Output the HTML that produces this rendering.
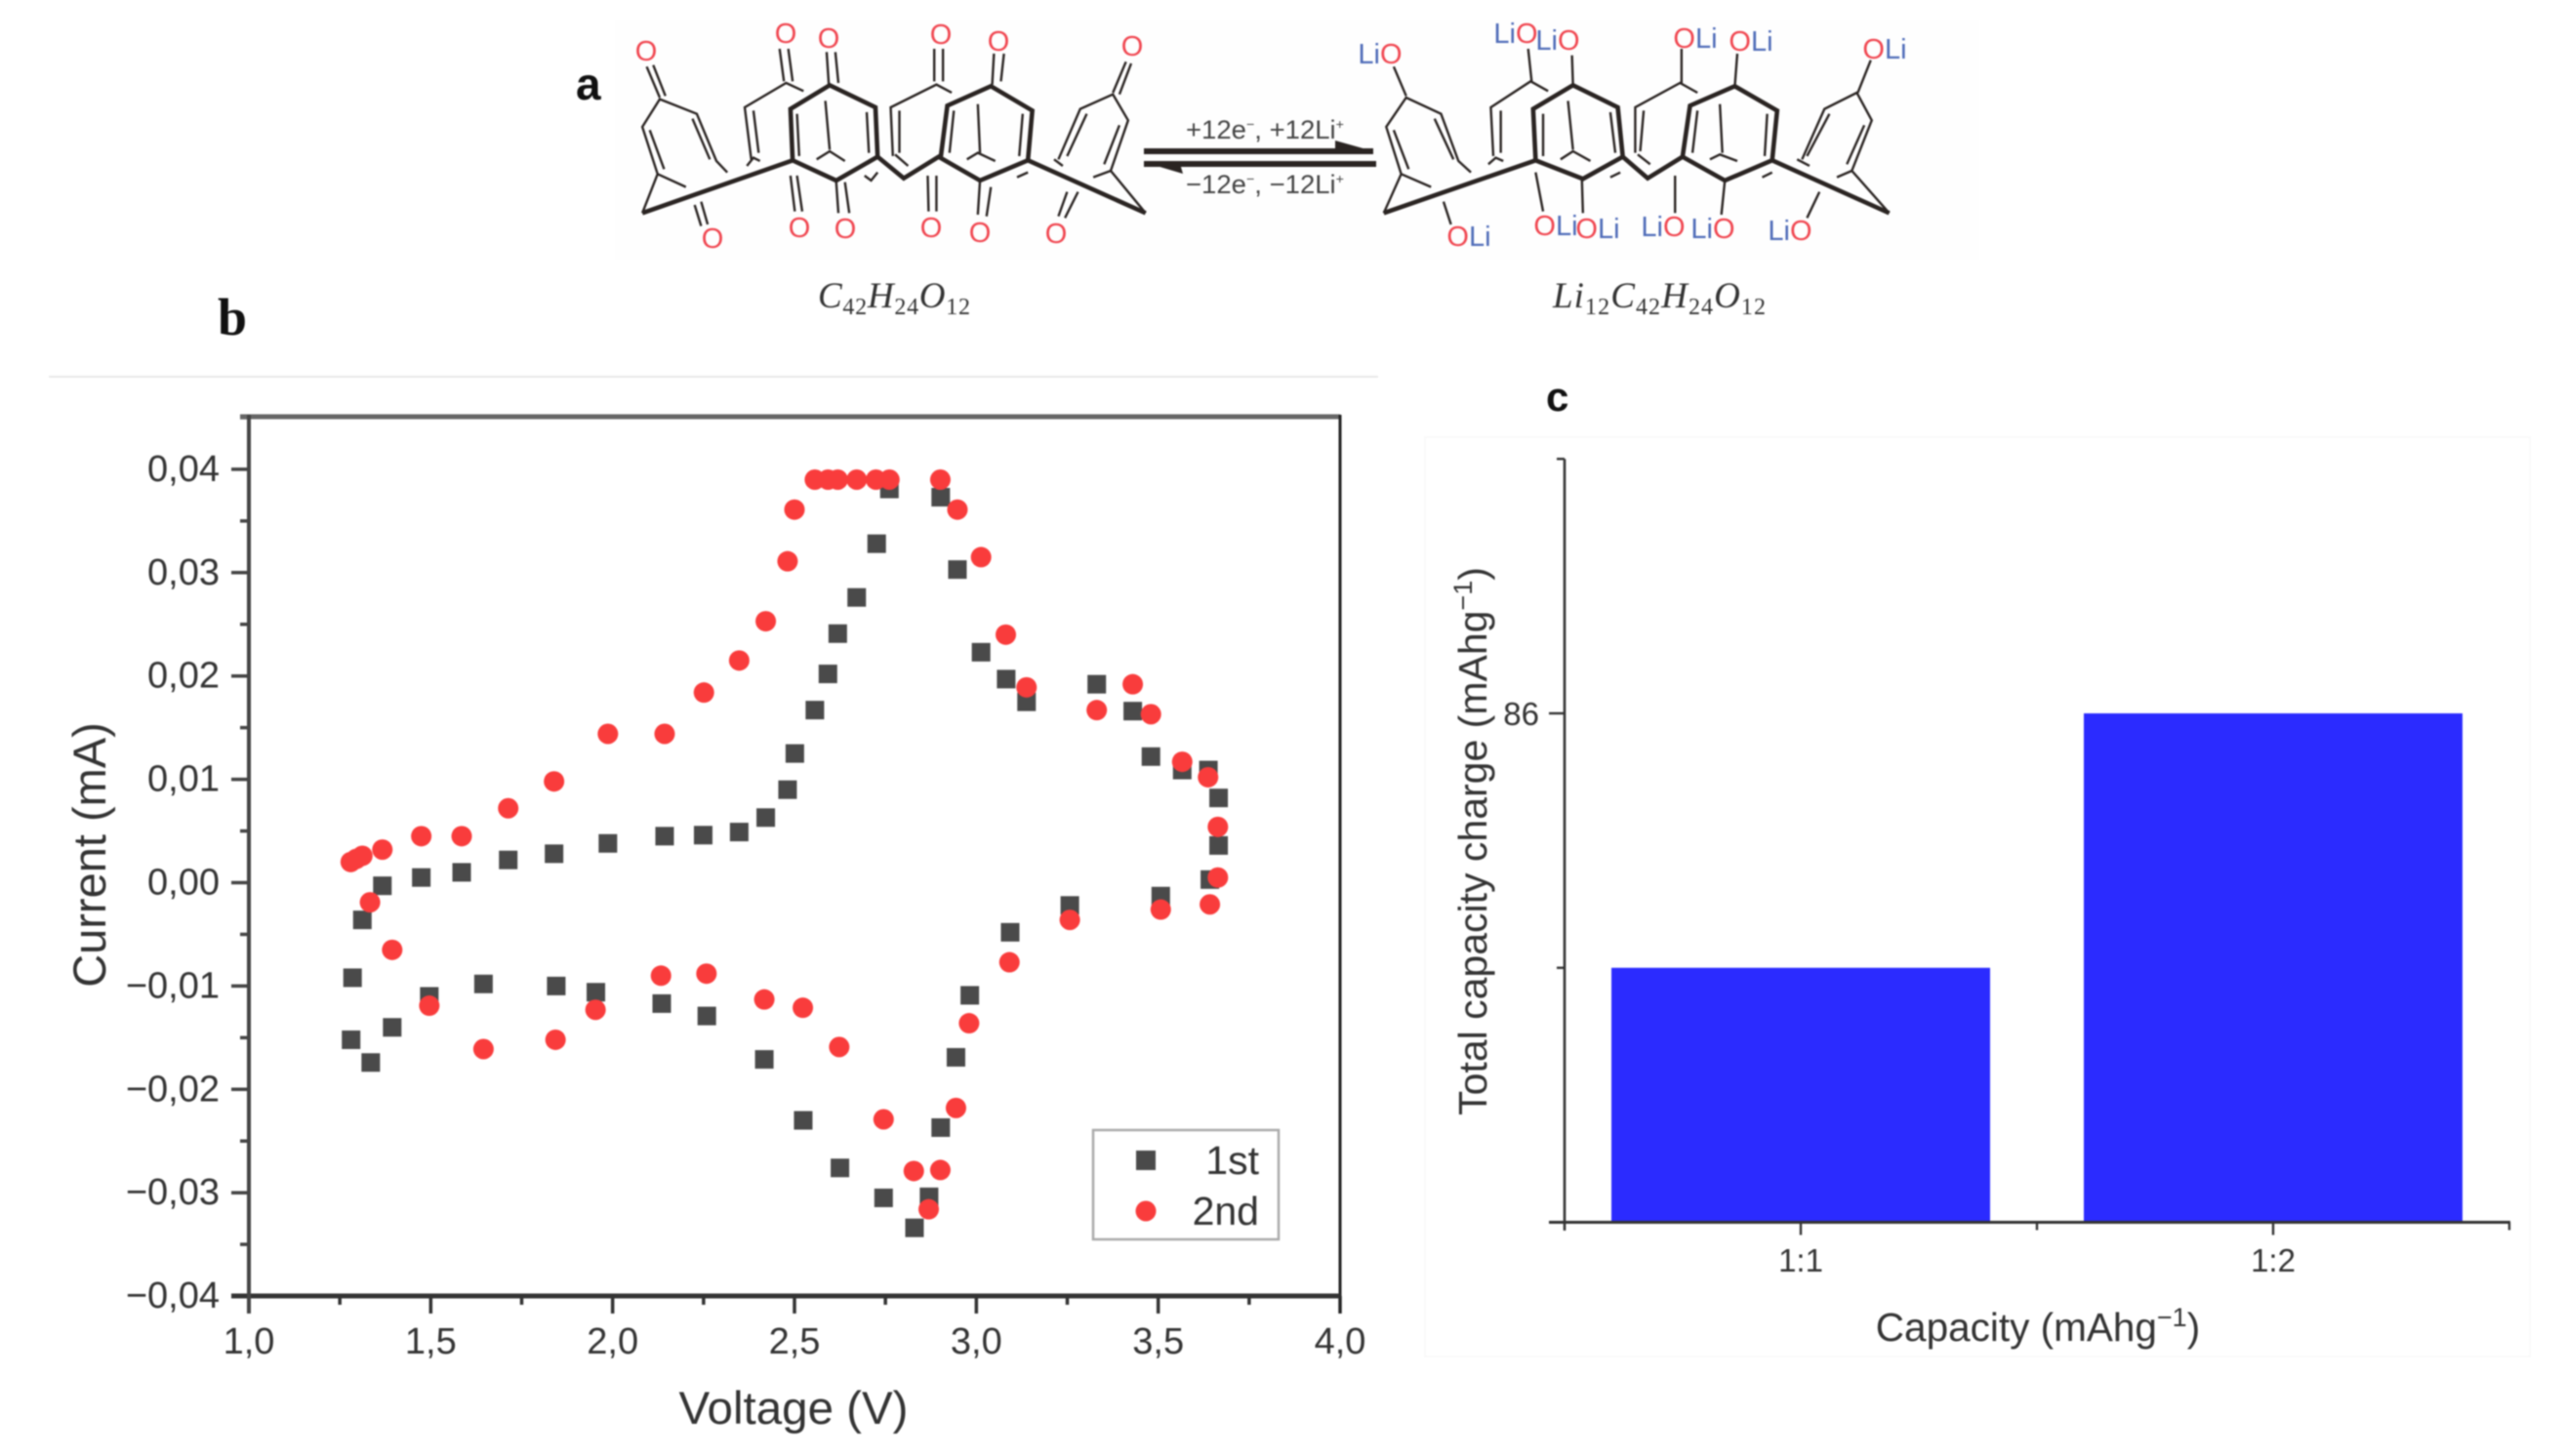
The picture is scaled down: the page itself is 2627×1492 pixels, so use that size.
<!DOCTYPE html>
<html lang="en">
<head>
<meta charset="utf-8">
<title>Electrochemical figure</title>
<style>
html,body{margin:0;padding:0;background:#fff;width:2627px;height:1492px;overflow:hidden}
svg{display:block;position:absolute;left:0;top:0;filter:blur(.8px)}
text{font-family:"Liberation Sans",sans-serif;fill:#333}
.bond{fill:none;stroke:#2a2422;stroke-width:2.4;vector-effect:non-scaling-stroke;stroke-linejoin:miter}
.bond-thick{fill:none;stroke:#2a2422;stroke-width:4.6;vector-effect:non-scaling-stroke;stroke-linejoin:miter}
.o{font-size:29px;fill:#f0454f;text-anchor:middle}
.li{font-size:29px;text-anchor:middle;fill:#f0454f}
.li tspan.b{fill:#4f6cb8}
.formula{font-family:"Liberation Serif",serif;font-style:italic;font-size:37px;fill:#333}
.formula .s{font-style:normal;font-size:24px}
.tick{font-size:38px}
</style>
</head>
<body>
<svg id="figure" xmlns="http://www.w3.org/2000/svg" width="2627" height="1492" viewBox="0 0 2627 1492">
  <rect width="2627" height="1492" fill="#fff"/>

  <g>
    <rect x="630" y="20" width="1398" height="246" fill="#fefefe"/>
    <text x="590" y="102" style="font-size:46px;font-weight:bold;fill:#111">a</text>

    <g transform="translate(580,0) scale(.4464,.3333)">
      <path class="bond-thick" d="M175 655L520 493L620 555L715 482L775 548L855 482L950 555L1060 493L1330 655M520 493L515 335L605 262L710 330L715 482M860 482L875 325L975 265L1070 340L1060 493"/>
      <path class="bond" d="M175 655L210 535L175 390L215 305L300 350L345 495L370 530M210 535L275 575M192 400L225 520M290 365L330 490M215 300L185 205M228 295L200 200M310 620L325 690M295 630L310 695M425 490L410 330L505 255L545 280M430 340L442 470M490 150L500 250M510 150L520 250M415 510L430 485L445 495M530 350L535 480M690 345L695 470M595 310L605 460M575 490L605 465L640 495M598 160L603 260M618 160L625 255M515 540L525 650M530 540L542 650M620 560L625 655M640 560L650 655M685 540L700 555L715 530M750 480L745 330L850 260L885 285M765 340L765 470M845 150L845 250M865 150L865 250M755 475L785 510M830 540L832 650M850 540L850 650M890 340L880 470M945 320L950 470M1048 350L1040 480M920 490L945 470L985 495M982 165L978 260M1005 165L998 250M950 555L945 660M975 575L965 665M1035 545L1060 530M1330 655L1250 525L1290 370L1255 290L1180 335L1130 490M1250 525L1210 545M1195 350L1150 480M1270 385L1235 505M1120 490L1140 510M1255 285L1285 190M1270 290L1297 195M1175 590L1145 670M1150 590L1130 665"/>
    </g>
    <g>
      <text class="o" x="662" y="62">O</text><text class="o" x="730" y="254">O</text><text class="o" x="805" y="44">O</text><text class="o" x="849" y="49">O</text><text class="o" x="964" y="45">O</text><text class="o" x="1023" y="52">O</text><text class="o" x="1160" y="57">O</text><text class="o" x="819" y="243">O</text><text class="o" x="866" y="244">O</text><text class="o" x="954" y="243">O</text><text class="o" x="1004" y="248">O</text><text class="o" x="1082" y="249">O</text>
    </g>

    <g>
      <rect x="1172" y="152" width="235" height="6" fill="#2a2422"/>
      <path d="M1368 144L1407 155L1368 156Z" fill="#2a2422"/>
      <rect x="1172" y="165" width="238" height="6" fill="#2a2422"/>
      <path d="M1175 167L1212 178L1209 168Z" fill="#2a2422"/>
    </g>
    <text x="1215" y="142" textLength="162" lengthAdjust="spacingAndGlyphs" style="font-size:27px;fill:#444">+12e<tspan dy="-10" font-size="14">−</tspan><tspan dy="10">, +12Li</tspan><tspan dy="-10" font-size="14">+</tspan></text>
    <text x="1215" y="198" textLength="162" lengthAdjust="spacingAndGlyphs" style="font-size:27px;fill:#444">−12e<tspan dy="-10" font-size="14">−</tspan><tspan dy="10">, −12Li</tspan><tspan dy="-10" font-size="14">+</tspan></text>

    <g transform="translate(1280,0) scale(.5102,.3333)">
      <path class="bond-thick" d="M270 655L575 493L670 550L750 482L800 548L870 482L955 555L1050 493L1285 655M575 493L570 335L650 262L740 330L750 482M870 482L885 325L975 265L1060 340L1050 493"/>
      <path class="bond" d="M270 655L305 535L275 390L315 300L385 350L420 495L445 530M305 535L365 575M290 400L320 520M372 365L410 490M315 295L290 205M390 620L405 690M490 480L485 330L565 250L600 280M505 340L505 470M560 150L567 250M480 505L495 485L510 495M590 350L590 480M725 345L735 470M640 310L650 460M625 490L650 465L685 495M648 170L650 260M575 530L590 650M668 555L670 655M725 545L745 530M775 470L775 330L865 255L900 285M792 340L785 465M868 150L868 255M780 475L805 505M855 540L855 655M900 340L890 470M945 320L950 470M1040 350L1035 480M925 490L945 475L980 495M980 165L975 265M955 555L948 660M1030 545L1050 530M1285 655L1210 525L1250 370L1220 285L1155 335L1110 490M1210 525L1180 545M1165 350L1120 480M1235 385L1200 505M1100 490L1125 510M1222 285L1248 185M1145 590L1120 670"/>
    </g>
    <g>
      <text class="li" x="1414" y="65"><tspan class="b">Li</tspan>O</text>
      <text class="li" x="1553" y="44"><tspan class="b">Li</tspan>O</text>
      <text class="li" x="1596" y="51"><tspan class="b">Li</tspan>O</text>
      <text class="li" x="1737" y="49">O<tspan class="b">Li</tspan></text>
      <text class="li" x="1794" y="52">O<tspan class="b">Li</tspan></text>
      <text class="li" x="1931" y="60">O<tspan class="b">Li</tspan></text>
      <text class="li" x="1505" y="252">O<tspan class="b">Li</tspan></text>
      <text class="li" x="1594" y="241">O<tspan class="b">Li</tspan></text>
      <text class="li" x="1637" y="244">O<tspan class="b">Li</tspan></text>
      <text class="li" x="1704" y="242"><tspan class="b">Li</tspan>O</text>
      <text class="li" x="1755" y="244"><tspan class="b">Li</tspan>O</text>
      <text class="li" x="1834" y="246"><tspan class="b">Li</tspan>O</text>
    </g>

    <text class="formula" x="838" y="315" textLength="156" lengthAdjust="spacing">C<tspan class="s" dy="7">42</tspan><tspan dy="-7">H</tspan><tspan class="s" dy="7">24</tspan><tspan dy="-7">O</tspan><tspan class="s" dy="7">12</tspan></text>
    <text class="formula" x="1591" y="315" textLength="218" lengthAdjust="spacing">Li<tspan class="s" dy="7">12</tspan><tspan dy="-7">C</tspan><tspan class="s" dy="7">42</tspan><tspan dy="-7">H</tspan><tspan class="s" dy="7">24</tspan><tspan dy="-7">O</tspan><tspan class="s" dy="7">12</tspan></text>
  </g>

  <g>
    <text x="223" y="343" style="font-family:'Liberation Serif',serif;font-size:54px;font-weight:bold;fill:#111">b</text>
    <line x1="50" y1="386" x2="1412" y2="386" stroke="#e8e8e8" stroke-width="2"/>
    <g id="cv-ticks"></g>
    <g>
      <line x1="246" y1="427" x2="1373" y2="427" stroke="#666" stroke-width="5"/>
      <line x1="1373" y1="425" x2="1373" y2="1346" stroke="#222" stroke-width="3"/>
      <line x1="237" y1="1328" x2="1373" y2="1328" stroke="#333" stroke-width="5"/>
      <line x1="255" y1="425" x2="255" y2="1346" stroke="#444" stroke-width="4"/>
    </g>
    <g id="cv-points"></g>
    <text transform="translate(108,876) rotate(-90)" text-anchor="middle" style="font-size:47px">Current (mA)</text>
    <text x="813" y="1459" text-anchor="middle" style="font-size:47.5px">Voltage (V)</text>
    <g>
      <rect x="1120" y="1158" width="190" height="112" fill="#fff" stroke="#aaa" stroke-width="2.5"/>
      <rect x="1164" y="1179" width="20" height="20" fill="#4a4a4a"/>
      <text x="1290" y="1203" text-anchor="end" style="font-size:41px">1st</text>
      <circle cx="1174" cy="1241" r="10.5" fill="#f93c3c"/>
      <text x="1290" y="1255" text-anchor="end" style="font-size:41px">2nd</text>
    </g>
  </g>

  <g>
    <text x="1584" y="421" style="font-size:42px;font-weight:bold;fill:#111">c</text>
    <rect x="1460" y="448" width="1132" height="942" fill="#fff" stroke="#f8f8f8" stroke-width="1.5"/>
    <g id="bar-marks"></g>
    <g id="bar-axes"></g>
    <text transform="translate(1523,862) rotate(-90)" text-anchor="middle" style="font-size:41px">Total capacity charge (mAhg<tspan dy="-15" font-size="27">−1</tspan><tspan dy="15">)</tspan></text>
    <text x="2088" y="1374" text-anchor="middle" style="font-size:40.5px">Capacity (mAhg<tspan dy="-15" font-size="27">−1</tspan><tspan dy="15">)</tspan></text>
  </g>
</svg>
<script>
// Panel b: cyclic voltammetry readings
const voltageFirst = [1.312,1.285,1.281,1.335,1.394,1.496,1.645,1.845,1.954,2.135,2.259,2.417,2.524,2.625,2.745,2.830,2.870,2.902,2.944,2.982,3.093,3.257,3.507,3.642,3.666,3.666,3.638,3.566,3.480,3.430,3.331,3.138,3.082,3.013,2.948,2.902,2.761,2.726,2.671,2.619,2.592,2.556,2.501,2.481,2.421,2.348,2.249,2.143,1.987,1.839,1.713,1.585,1.474,1.367];
const currentFirst = [-0.0036,-0.0092,-0.0152,-0.0174,-0.0140,-0.0110,-0.0098,-0.0100,-0.0106,-0.0117,-0.0129,-0.0171,-0.0230,-0.0276,-0.0305,-0.0334,-0.0304,-0.0237,-0.0169,-0.0109,-0.0048,-0.0022,-0.0013,0.0003,0.0036,0.0082,0.0109,0.0109,0.0122,0.0166,0.0192,0.0175,0.0197,0.0223,0.0303,0.0373,0.0381,0.0328,0.0276,0.0241,0.0202,0.0167,0.0125,0.0090,0.0063,0.0049,0.0046,0.0045,0.0038,0.0028,0.0022,0.0010,0.0005,-0.0003];
const voltageSecond = [1.28,1.295,1.312,1.367,1.474,1.585,1.713,1.839,1.987,2.143,2.251,2.348,2.421,2.481,2.50,2.556,2.592,2.619,2.671,2.724,2.761,2.901,2.948,3.013,3.081,3.138,3.331,3.430,3.480,3.566,3.637,3.664,3.664,3.642,3.507,3.257,3.091,2.980,2.944,2.901,2.869,2.828,2.745,2.623,2.523,2.417,2.258,2.133,1.953,1.843,1.645,1.496,1.394,1.333];
const currentSecond = [0.0020,0.0023,0.0026,0.0032,0.0045,0.0045,0.0072,0.0098,0.0144,0.0144,0.0184,0.0215,0.0253,0.0311,0.0361,0.0390,0.0390,0.0390,0.0390,0.0390,0.0390,0.0390,0.0361,0.0315,0.0240,0.0189,0.0167,0.0192,0.0163,0.0117,0.0102,0.0054,0.0005,-0.0021,-0.0026,-0.0036,-0.0077,-0.0136,-0.0218,-0.0278,-0.0316,-0.0279,-0.0229,-0.0159,-0.0121,-0.0113,-0.0088,-0.0090,-0.0123,-0.0152,-0.0161,-0.0119,-0.0065,-0.0019];
const xMajorTicks = [1,1.5,2,2.5,3,3.5,4];
const xTickLabels = ['1,0','1,5','2,0','2,5','3,0','3,5','4,0'];
const xMinorTicks = [1.25,1.75,2.25,2.75,3.25,3.75];
const yMajorTicks = [0.04,0.03,0.02,0.01,0,-0.01,-0.02,-0.03,-0.04];
const yTickLabels = ['0,04','0,03','0,02','0,01','0,00','−0,01','−0,02','−0,03','−0,04'];
const yMinorTicks = [0.045,0.035,0.025,0.015,0.005,-0.005,-0.015,-0.025,-0.035];

// Panel c: capacity bars
const barCategories = ['1:1','1:2'];
const barValues = [43,86];
const barYTickValues = [0,43,86,129];
const barYTickLabels = ['','','86',''];

const SVG_NS = 'http://www.w3.org/2000/svg';
const xV = v => 255 + (v - 1) * 372.67;
const yI = c => 904.5 - c * 10590;
const yC = v => 1252.5 - v * (521.5 / 86);
const bandC = i => 1845 + i * 484;

function make(parent, tag, attrs, text) {
  const el = document.createElementNS(SVG_NS, tag);
  for (const k in attrs) el.setAttribute(k, attrs[k]);
  if (text !== undefined) el.textContent = text;
  parent.appendChild(el);
  return el;
}

const cvTicks = document.getElementById('cv-ticks');
xMajorTicks.forEach((v, i) => {
  const tick = make(cvTicks, 'line', {x1: xV(v), x2: xV(v), y1: 1328, y2: 1346, stroke: '#333', 'stroke-width': 3.5});
  
  
  const label = make(cvTicks, 'text', {x: xV(v), y: 1387, 'text-anchor': 'middle', class: 'tick'}, xTickLabels[i]);
  
  
});
xMinorTicks.forEach(v => {
  const tick = make(cvTicks, 'line', {x1: xV(v), x2: xV(v), y1: 1328, y2: 1337, stroke: '#333', 'stroke-width': 3.5});
  
  
});
yMajorTicks.forEach((v, i) => {
  const tick = make(cvTicks, 'line', {x1: 237, x2: 255, y1: yI(v), y2: yI(v), stroke: '#444', 'stroke-width': 3.5});
  
  
  const label = make(cvTicks, 'text', {x: 225, y: yI(v) + 12, 'text-anchor': 'end', class: 'tick'}, yTickLabels[i]);
  
  
});
yMinorTicks.forEach(v => {
  const tick = make(cvTicks, 'line', {x1: 246, x2: 255, y1: yI(v), y2: yI(v), stroke: '#444', 'stroke-width': 3.5});
  
  
});

const cvPoints = document.getElementById('cv-points');
voltageFirst.forEach((v, i) => {
  const square = make(cvPoints, 'rect', {x: xV(v) - 9.5, y: yI(currentFirst[i]) - 9.5, width: 19, height: 19, fill: '#4a4a4a'});
  
  
});
voltageSecond.forEach((v, i) => {
  const dot = make(cvPoints, 'circle', {cx: xV(v), cy: yI(currentSecond[i]), r: 10.5, fill: '#f93c3c'});
  
  
});

const barMarks = document.getElementById('bar-marks');
barCategories.forEach((c, i) => {
  const bar = make(barMarks, 'rect', {x: bandC(i) - 194, y: yC(barValues[i]), width: 388, height: yC(0) - yC(barValues[i]), fill: '#2b2bff'});
  
  
});

const barAxes = document.getElementById('bar-axes');
const barYSpine = make(barAxes, 'line', {x1: 1603, x2: 1603, y1: yC(129), y2: 1261, stroke: '#333', 'stroke-width': 2.6});


const barXSpine = make(barAxes, 'line', {x1: 1587, x2: 2572, y1: yC(0), y2: yC(0), stroke: '#333', 'stroke-width': 3});


barYTickValues.forEach((v, i) => {
  const major = barYTickLabels[i] !== '' || v === 0;
  const tick = make(barAxes, 'line', {x1: major ? 1587 : 1595, x2: 1603, y1: yC(v), y2: yC(v), stroke: '#333', 'stroke-width': 2.4});
  
  
  if (barYTickLabels[i] !== '') {
    const label = make(barAxes, 'text', {x: 1577, y: yC(v) + 12, 'text-anchor': 'end', style: 'font-size:33px'}, barYTickLabels[i]);
    
    
  }
});
barCategories.forEach((c, i) => {
  const tick = make(barAxes, 'line', {x1: bandC(i), x2: bandC(i), y1: yC(0), y2: yC(0) + 13, stroke: '#333', 'stroke-width': 2.4});
  
  
  const edge = make(barAxes, 'line', {x1: bandC(i) + 242, x2: bandC(i) + 242, y1: yC(0), y2: yC(0) + 8, stroke: '#333', 'stroke-width': 2.4});
  
  
  const label = make(barAxes, 'text', {x: bandC(i), y: 1303, 'text-anchor': 'middle', style: 'font-size:33px'}, c);
  
  
});
</script>
</body>
</html>
